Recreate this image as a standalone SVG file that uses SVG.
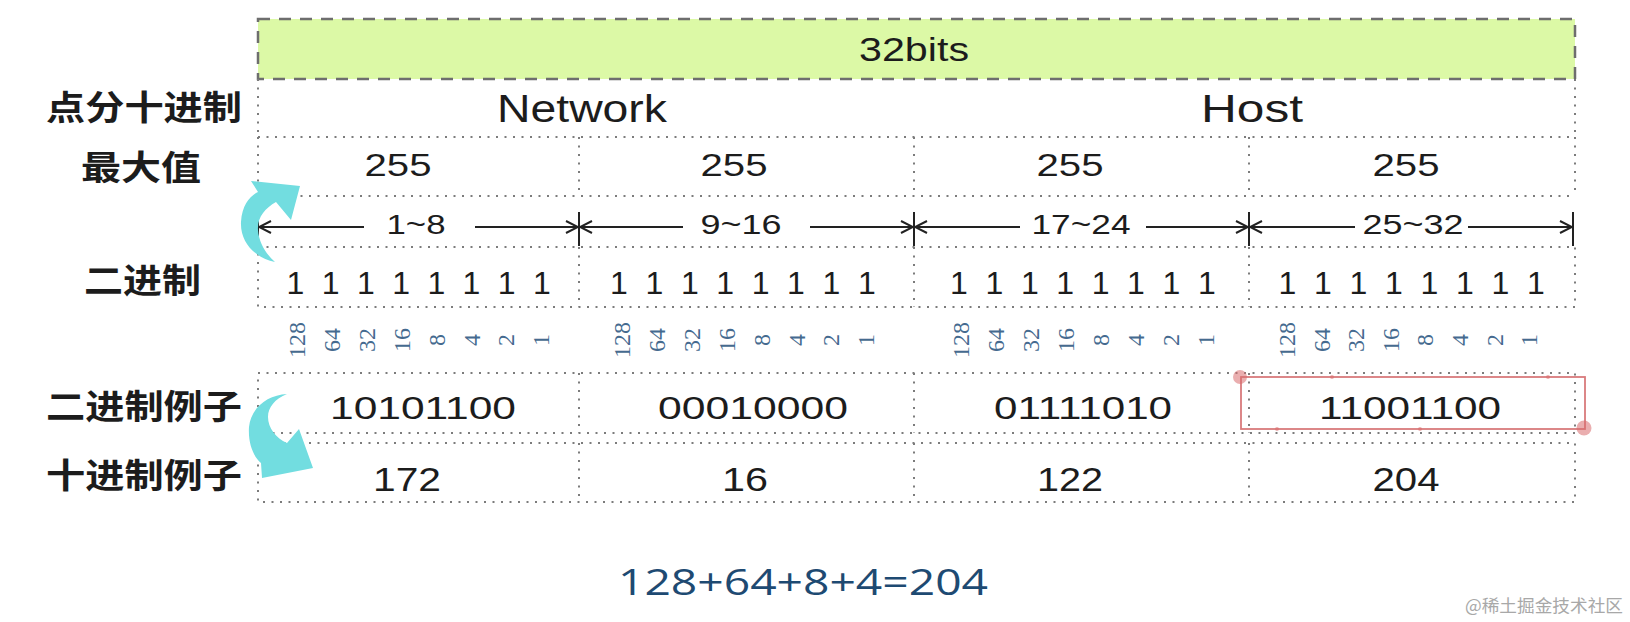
<svg xmlns="http://www.w3.org/2000/svg" width="1630" height="622" viewBox="0 0 1630 622">
<style>
.dot{stroke:#7c7c7c;stroke-width:2;stroke-dasharray:2 6.5;fill:none}
.lbl{font-family:"Noto Sans CJK SC","Noto Sans CJK JP",sans-serif;font-weight:bold;font-size:34px;fill:#1c1c1c}
.t{font-family:"Liberation Sans",Arial,sans-serif;fill:#1c1c1c;text-anchor:middle}
.w{font-family:"Liberation Serif","Times New Roman",serif;font-size:24px;fill:#456a8f;text-anchor:middle;dominant-baseline:central}
.dim{stroke:#222;stroke-width:2;fill:none}
.cyan{fill:#72dde0}
.sel{fill:none;stroke:#d97a7c;stroke-width:1.8}
.h{fill:#d96b6e;fill-opacity:0.55}
</style>
<defs>
<marker id="ah" viewBox="0 0 14 14" markerWidth="14" markerHeight="14" refX="13" refY="7" orient="auto-start-reverse" markerUnits="userSpaceOnUse">
<path d="M1,1 L13,7 L1,13" fill="none" stroke="#222" stroke-width="2"/>
</marker>
</defs>
<rect width="1630" height="622" fill="#ffffff"/>

<g id="title-bar">
<rect x="258" y="19" width="1317" height="60" fill="#dcf9a6" stroke="#6e6e6e" stroke-width="2.5" stroke-dasharray="12 9"/>
<text class="t" x="914" y="61" font-size="33" textLength="110" lengthAdjust="spacingAndGlyphs">32bits</text>
</g>

<g id="row-labels">
<text class="lbl" x="46" y="120" textLength="196" lengthAdjust="spacingAndGlyphs">点分十进制</text>
<text class="lbl" x="81" y="180" textLength="120" lengthAdjust="spacingAndGlyphs">最大值</text>
<text class="lbl" x="84" y="293" textLength="117" lengthAdjust="spacingAndGlyphs">二进制</text>
<text class="lbl" x="46" y="419" textLength="196" lengthAdjust="spacingAndGlyphs">二进制例子</text>
<text class="lbl" x="46" y="488" textLength="196" lengthAdjust="spacingAndGlyphs">十进制例子</text>
</g>

<g id="row-network-host">
<line class="dot" x1="258" y1="79" x2="258" y2="137"/>
<line class="dot" x1="1575" y1="79" x2="1575" y2="137"/>
<line class="dot" x1="258" y1="137" x2="1575" y2="137"/>
<text class="t" x="582" y="122" font-size="39" textLength="170" lengthAdjust="spacingAndGlyphs">Network</text>
<text class="t" x="1252" y="122" font-size="39" textLength="102" lengthAdjust="spacingAndGlyphs">Host</text>
</g>

<g id="row-max">
<line class="dot" x1="258" y1="137" x2="258" y2="196"/>
<line class="dot" x1="579" y1="137" x2="579" y2="196"/>
<line class="dot" x1="914" y1="137" x2="914" y2="196"/>
<line class="dot" x1="1249" y1="137" x2="1249" y2="196"/>
<line class="dot" x1="1575" y1="137" x2="1575" y2="196"/>
<line class="dot" x1="258" y1="196" x2="1575" y2="196"/>
<text class="t" x="398" y="176" font-size="32" textLength="67" lengthAdjust="spacingAndGlyphs">255</text>
<text class="t" x="734" y="176" font-size="32" textLength="67" lengthAdjust="spacingAndGlyphs">255</text>
<text class="t" x="1070" y="176" font-size="32" textLength="67" lengthAdjust="spacingAndGlyphs">255</text>
<text class="t" x="1406" y="176" font-size="32" textLength="67" lengthAdjust="spacingAndGlyphs">255</text>
</g>

<g id="row-binary">
<rect class="dot" x="258" y="247" width="1317" height="60"/>
<line class="dot" x1="579" y1="247" x2="579" y2="307"/>
<line class="dot" x1="914" y1="247" x2="914" y2="307"/>
<line class="dot" x1="1249" y1="247" x2="1249" y2="307"/>
<text class="t" font-size="32" y="294" x="295.5 330.7 365.9 401.1 436.3 471.5 506.7 541.9">11111111</text>
<text class="t" font-size="32" y="294" x="619 654.4 689.8 725.2 760.6 796 831.4 866.8">11111111</text>
<text class="t" font-size="32" y="294" x="959 994.4 1029.8 1065.2 1100.6 1136 1171.4 1206.8">11111111</text>
<text class="t" font-size="32" y="294" x="1287.5 1323 1358.5 1394 1429.5 1465 1500.5 1536">11111111</text>
</g>

<g id="row-weights">
<text class="w" transform="translate(297 340) rotate(-90)">128</text>
<text class="w" transform="translate(331.9 340) rotate(-90)">64</text>
<text class="w" transform="translate(366.8 340) rotate(-90)">32</text>
<text class="w" transform="translate(401.7 340) rotate(-90)">16</text>
<text class="w" transform="translate(436.6 340) rotate(-90)">8</text>
<text class="w" transform="translate(471.5 340) rotate(-90)">4</text>
<text class="w" transform="translate(506.4 340) rotate(-90)">2</text>
<text class="w" transform="translate(541.3 340) rotate(-90)">1</text>
<text class="w" transform="translate(622 340) rotate(-90)">128</text>
<text class="w" transform="translate(656.9 340) rotate(-90)">64</text>
<text class="w" transform="translate(691.8 340) rotate(-90)">32</text>
<text class="w" transform="translate(726.7 340) rotate(-90)">16</text>
<text class="w" transform="translate(761.6 340) rotate(-90)">8</text>
<text class="w" transform="translate(796.5 340) rotate(-90)">4</text>
<text class="w" transform="translate(831.4 340) rotate(-90)">2</text>
<text class="w" transform="translate(866.3 340) rotate(-90)">1</text>
<text class="w" transform="translate(961 340) rotate(-90)">128</text>
<text class="w" transform="translate(996 340) rotate(-90)">64</text>
<text class="w" transform="translate(1031 340) rotate(-90)">32</text>
<text class="w" transform="translate(1066 340) rotate(-90)">16</text>
<text class="w" transform="translate(1101 340) rotate(-90)">8</text>
<text class="w" transform="translate(1136 340) rotate(-90)">4</text>
<text class="w" transform="translate(1171 340) rotate(-90)">2</text>
<text class="w" transform="translate(1206 340) rotate(-90)">1</text>
<text class="w" transform="translate(1287 340) rotate(-90)">128</text>
<text class="w" transform="translate(1321.6 340) rotate(-90)">64</text>
<text class="w" transform="translate(1356.2 340) rotate(-90)">32</text>
<text class="w" transform="translate(1390.8 340) rotate(-90)">16</text>
<text class="w" transform="translate(1425.4 340) rotate(-90)">8</text>
<text class="w" transform="translate(1460 340) rotate(-90)">4</text>
<text class="w" transform="translate(1494.6 340) rotate(-90)">2</text>
<text class="w" transform="translate(1529.2 340) rotate(-90)">1</text>
</g>

<g id="row-binary-example">
<rect class="dot" x="258" y="373" width="1317" height="60"/>
<line class="dot" x1="579" y1="373" x2="579" y2="433"/>
<line class="dot" x1="914" y1="373" x2="914" y2="433"/>
<line class="dot" x1="1249" y1="373" x2="1249" y2="433"/>
<text class="t" x="423" y="419" font-size="31" textLength="186" lengthAdjust="spacingAndGlyphs">10101100</text>
<text class="t" x="753" y="419" font-size="31" textLength="190" lengthAdjust="spacingAndGlyphs">00010000</text>
<text class="t" x="1083" y="419" font-size="31" textLength="178" lengthAdjust="spacingAndGlyphs">01111010</text>
<text class="t" x="1410" y="419" font-size="31" textLength="182" lengthAdjust="spacingAndGlyphs">11001100</text>
</g>

<g id="selection">
<rect class="sel" x="1241" y="377" width="344" height="52"/>
<circle class="h" cx="1240" cy="377" r="7"/>
<circle class="h" cx="1584" cy="428" r="7.5"/>
<circle class="h" cx="1332" cy="377" r="2"/>
<circle class="h" cx="1548" cy="377" r="2"/>
<circle class="h" cx="1277" cy="429" r="2"/>
<circle class="h" cx="1420" cy="429" r="2"/>
</g>

<g id="row-decimal-example">
<rect class="dot" x="258" y="443" width="1317" height="59"/>
<line class="dot" x1="579" y1="443" x2="579" y2="502"/>
<line class="dot" x1="914" y1="443" x2="914" y2="502"/>
<line class="dot" x1="1249" y1="443" x2="1249" y2="502"/>
<text class="t" x="407" y="491" font-size="33" textLength="68" lengthAdjust="spacingAndGlyphs">172</text>
<text class="t" x="745" y="491" font-size="33" textLength="46" lengthAdjust="spacingAndGlyphs">16</text>
<text class="t" x="1070" y="491" font-size="33" textLength="66" lengthAdjust="spacingAndGlyphs">122</text>
<text class="t" x="1406" y="491" font-size="33" textLength="67" lengthAdjust="spacingAndGlyphs">204</text>
</g>

<g id="connectors">
<line class="dim" x1="258" y1="212" x2="258" y2="246"/>
<line class="dim" x1="579" y1="212" x2="579" y2="246"/>
<line class="dim" x1="914" y1="212" x2="914" y2="246"/>
<line class="dim" x1="1249" y1="212" x2="1249" y2="246"/>
<line class="dim" x1="1573" y1="212" x2="1573" y2="246"/>
<line class="dim" x1="364" y1="227" x2="259" y2="227" marker-end="url(#ah)"/>
<line class="dim" x1="475" y1="227" x2="578" y2="227" marker-end="url(#ah)"/>
<line class="dim" x1="683" y1="227" x2="580" y2="227" marker-end="url(#ah)"/>
<line class="dim" x1="810" y1="227" x2="913" y2="227" marker-end="url(#ah)"/>
<line class="dim" x1="1020" y1="227" x2="915" y2="227" marker-end="url(#ah)"/>
<line class="dim" x1="1146" y1="227" x2="1248" y2="227" marker-end="url(#ah)"/>
<line class="dim" x1="1355" y1="227" x2="1250" y2="227" marker-end="url(#ah)"/>
<line class="dim" x1="1468" y1="227" x2="1572" y2="227" marker-end="url(#ah)"/>
<text class="t" x="416" y="234" font-size="28" textLength="59" lengthAdjust="spacingAndGlyphs">1~8</text>
<text class="t" x="741" y="234" font-size="28" textLength="81" lengthAdjust="spacingAndGlyphs">9~16</text>
<text class="t" x="1081" y="234" font-size="28" textLength="99" lengthAdjust="spacingAndGlyphs">17~24</text>
<text class="t" x="1413" y="234" font-size="28" textLength="101" lengthAdjust="spacingAndGlyphs">25~32</text>
<path class="cyan" d="M275,262 C255,258 240,242 241,222 C242,205 250,196 258,192 L251,181 L300,186 L291,220 L276,202 C265,208 257,218 258,230 C259,243 266,254 275,262 Z"/>
<path class="cyan" d="M287,394 C267,395 251,408 249,427 C248,443 253,456 261,463 L262,478 L313,468 L299,429 L287,443 C276,438 268,428 268,417 C268,407 275,399 287,394 Z"/>
</g>

<g id="formula">
<text x="618" y="595" font-family="'Open Sans','Noto Sans',sans-serif" font-size="36" fill="#1e4a72" textLength="370" lengthAdjust="spacingAndGlyphs">128+64+8+4=204</text>
</g>

<g id="watermark">
<text x="1465" y="612" font-family="'Noto Sans CJK SC',sans-serif" font-size="17.5" fill="#a8a8a8" textLength="158" lengthAdjust="spacingAndGlyphs">@稀土掘金技术社区</text>
</g>
</svg>
